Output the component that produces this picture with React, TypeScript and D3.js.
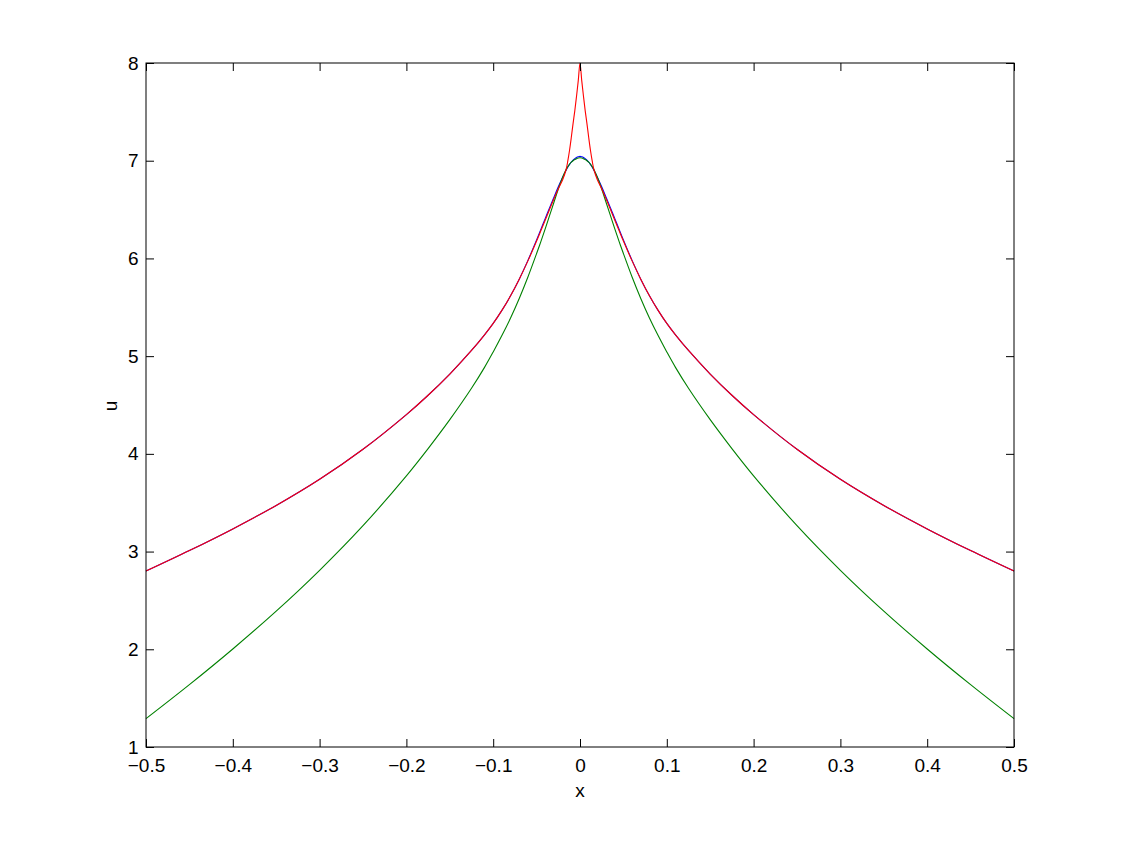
import { useRef, useEffect } from "react";
import * as d3 from "d3";

// sampled from the figure, x from -0.5 to 0.5
const xs = [
  -0.5, -0.45, -0.4, -0.35, -0.3, -0.25, -0.2, -0.175, -0.15, -0.125, -0.11, -0.1, -0.09, -0.08, -0.07, -0.06, -0.05,
  -0.045, -0.04, -0.035, -0.03, -0.025, -0.02, -0.016, -0.014, -0.012, -0.01, -0.008, -0.006, -0.004, -0.002, 0,
  0.002, 0.004, 0.006, 0.008, 0.01, 0.012, 0.014, 0.016, 0.02, 0.025, 0.03, 0.035, 0.04, 0.045, 0.05,
  0.06, 0.07, 0.08, 0.09, 0.1, 0.11, 0.125, 0.15, 0.175, 0.2, 0.25, 0.3, 0.35, 0.4, 0.45, 0.5,
];

const blueU = [
  2.8, 3.01, 3.232, 3.472, 3.74, 4.047, 4.402, 4.6, 4.817, 5.058, 5.218, 5.335, 5.468, 5.618, 5.788, 5.98, 6.19,
  6.3, 6.41, 6.52, 6.627, 6.733, 6.832, 6.903, 6.935, 6.963, 6.987, 7.006, 7.021, 7.033, 7.04, 7.044,
  7.04, 7.033, 7.021, 7.006, 6.987, 6.963, 6.935, 6.903, 6.832, 6.733, 6.627, 6.52, 6.41, 6.3, 6.19,
  5.98, 5.788, 5.618, 5.468, 5.335, 5.218, 5.058, 4.817, 4.6, 4.402, 4.047, 3.74, 3.472, 3.232, 3.01, 2.8,
];

const greenU = [
  1.29, 1.638, 2.003, 2.39, 2.808, 3.265, 3.775, 4.054, 4.35, 4.671, 4.885, 5.043, 5.21, 5.39, 5.59, 5.81, 6.05,
  6.175, 6.305, 6.44, 6.575, 6.71, 6.83, 6.91, 6.94, 6.965, 6.985, 7.0, 7.012, 7.021, 7.027, 7.03,
  7.027, 7.021, 7.012, 7.0, 6.985, 6.965, 6.94, 6.91, 6.83, 6.71, 6.575, 6.44, 6.305, 6.175, 6.05,
  5.81, 5.59, 5.39, 5.21, 5.043, 4.885, 4.671, 4.35, 4.054, 3.775, 3.265, 2.808, 2.39, 2.003, 1.638, 1.29,
];

const redU = [
  2.8, 3.01, 3.232, 3.472, 3.74, 4.047, 4.402, 4.6, 4.817, 5.058, 5.218, 5.335, 5.468, 5.618, 5.788, 5.975, 6.178,
  6.285, 6.393, 6.503, 6.61, 6.713, 6.805, 6.91, 7.0, 7.11, 7.24, 7.38, 7.51, 7.66, 7.82, 8.0,
  7.82, 7.66, 7.51, 7.38, 7.24, 7.11, 7.0, 6.91, 6.805, 6.713, 6.61, 6.503, 6.393, 6.285, 6.178,
  5.975, 5.788, 5.618, 5.468, 5.335, 5.218, 5.058, 4.817, 4.6, 4.402, 4.047, 3.74, 3.472, 3.232, 3.01, 2.8,
];

const xTicks = [-0.5, -0.4, -0.3, -0.2, -0.1, 0, 0.1, 0.2, 0.3, 0.4, 0.5];
const yTicks = [1, 2, 3, 4, 5, 6, 7, 8];

const series = [
  { name: "blue", values: blueU, color: "#0000ff" },
  { name: "green", values: greenU, color: "#008000" },
  { name: "red", values: redU, color: "#ff0000" },
];

export default function App() {
  const svgRef = useRef<SVGSVGElement>(null);
  const width = 1121;
  const height = 842;

  useEffect(() => {
    if (!svgRef.current) return;
    const svg = d3.select(svgRef.current);
    svg.selectAll("*").remove();

    const margin = { top: 63, right: 107, bottom: 95, left: 146 };
    const w = width - margin.left - margin.right;
    const h = height - margin.top - margin.bottom;
    const font = "'Liberation Sans', Arial, Helvetica, sans-serif";
    const fontSize = "19px";

    const g = svg.append("g").attr("transform", `translate(${margin.left},${margin.top})`);

    const x = d3.scaleLinear().domain([-0.5, 0.5]).range([0, w]);
    const y = d3.scaleLinear().domain([1, 8]).range([h, 0]);

    // curves
    const line = d3
      .line<number>()
      .x((_, i) => x(xs[i]))
      .y((d) => y(d))
      .curve(d3.curveCatmullRom.alpha(0.5));

    series.forEach((s) => {
      g.append("path")
        .datum(s.values)
        .attr("fill", "none")
        .attr("stroke", s.color)
        .attr("stroke-width", 1.1)
        .attr("d", line);
    });

    // axes box with inward ticks (matlab style)
    const tickLen = 8;
    const fmt = (d: number) => (d < 0 ? "\u2212" + Math.abs(d) : String(d));

    const bottom = g.append("g").attr("transform", `translate(0,${h})`).call(
      d3.axisBottom(x).tickValues(xTicks).tickSize(-tickLen).tickPadding(12).tickFormat((d) => fmt(d as number))
    );
    const top = g.append("g").call(d3.axisTop(x).tickValues(xTicks).tickSize(-tickLen).tickFormat(() => ""));
    const left = g.append("g").call(
      d3.axisLeft(y).tickValues(yTicks).tickSize(-tickLen).tickPadding(7.5).tickFormat((d) => String(d))
    );
    const right = g.append("g").attr("transform", `translate(${w},0)`).call(
      d3.axisRight(y).tickValues(yTicks).tickSize(-tickLen).tickFormat(() => "")
    );

    [bottom, top, left, right].forEach((a) => {
      a.select(".domain").remove();
      a.selectAll("line").attr("stroke", "#000").attr("stroke-width", 1);
      a.selectAll("text").attr("fill", "#000").attr("font-size", fontSize).attr("font-family", font);
    });

    g.append("rect")
      .attr("x", 0)
      .attr("y", 0)
      .attr("width", w)
      .attr("height", h)
      .attr("fill", "none")
      .attr("stroke", "#000")
      .attr("stroke-width", 1);

    // axis labels
    g.append("text")
      .attr("x", w / 2)
      .attr("y", h + 50)
      .attr("text-anchor", "middle")
      .attr("font-family", font)
      .attr("font-size", fontSize)
      .text("x");

    g.append("text")
      .attr("transform", `translate(${-29},${h / 2 + 1}) rotate(-90)`)
      .attr("text-anchor", "middle")
      .attr("font-family", font)
      .attr("font-size", fontSize)
      .text("u");
  }, []);

  return (
    <svg
      ref={svgRef}
      width={width}
      height={height}
      style={{ position: "absolute", left: 0, top: 0, background: "#fff" }}
    />
  );
}
